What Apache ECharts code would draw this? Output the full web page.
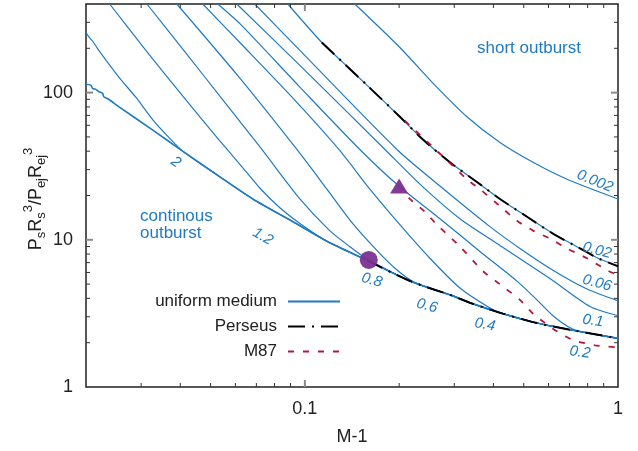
<!DOCTYPE html>
<html>
<head>
<meta charset="utf-8">
<script src="https://cdn.jsdelivr.net/npm/echarts@6/dist/echarts.min.js"></script>
<style>
  html, body { margin: 0; padding: 0; background: #ffffff; }
  #chart { width: 638px; height: 451px; }
</style>
</head>
<body>
<div id="chart"></div>
<script>
// Pressure ratio P_s R_s^3 / (P_ej R_ej^3) against Mach number minus one (M-1).

// Continuous-outburst envelope in a uniform medium
const continuous = [[0.02,114],[0.0207,112.5],[0.021,106.9],[0.0215,105.2],[0.022,101.4],[0.0226,98.9],[0.0228,93.8],
  [0.0236,90.2],[0.0255,80],[0.0327,55.6],[0.0408,39.9],[0.0531,27.1],[0.0682,18.95],[0.0916,13.27],[0.118,9.74],
  [0.158,7.26],[0.217,5.24],[0.297,4.16],[0.337,3.73],[0.429,3.15],[0.551,2.72],[0.702,2.45],[1,2.14]];

// Finite-duration outbursts (uniform medium); each one joins the envelope after its last point
const durationLabels = ['2','1.2','0.8','0.6','0.4','0.2','0.1','0.06','0.02','0.002'];
const dur2    = [[0.02,256],[0.0204,240],[0.0209,226],[0.0213,214],[0.022,193],[0.0255,127],[0.0288,93.4],[0.0327,65.4],[0.0365,50.5],[0.0408,39.9]];
const dur1_2  = [[0.0238,400],[0.0311,193],[0.0417,89.2],[0.0531,48],[0.062,32.6],[0.0718,22.5],[0.0832,16.5],[0.0964,12.9]];
const dur0_8  = [[0.0313,400],[0.0411,193],[0.0547,89.2],[0.0729,41.1],[0.0964,18.95],[0.120,11.55],[0.139,9.01],[0.1578,7.4],[0.1737,6.63]];
const dur0_6  = [[0.039,400],[0.062,125.4],[0.0943,41.1],[0.1176,22.1],[0.1423,12.87],[0.1698,8.47],[0.1939,6.41],[0.2246,5.12]];
const dur0_4  = [[0.0472,400],[0.062,218.9],[0.0896,96.4],[0.1284,41.1],[0.1613,22.1],[0.2011,12.67],[0.2508,7.49],[0.3128,4.70],[0.390,3.44]];
const dur0_2  = [[0.0527,400],[0.062,293.9],[0.0964,109],[0.1498,41.1],[0.1996,23.2],[0.27,13.91],[0.3623,8.34],[0.4757,5.24],
  [0.551,3.91],[0.6198,3.05],[0.7129,2.49],[0.8443,2.28]];
const dur0_1  = [[0.0606,400],[0.0964,153.3],[0.1802,41.1],[0.233,23.9],[0.3128,13.91],[0.4198,9.16],[0.6063,5.45],[0.814,3.52],[1,3.05]];
const dur0_06 = [[0.0692,400],[0.0964,193.4],[0.1968,41.1],[0.27,23.2],[0.39,12.29],[0.4862,8.74],[0.6198,6.22],[0.7963,4.63],[1,3.85]];
const dur0_02 = [[0.0882,400],[0.1133,218.9],[0.1322,160.6],[0.1578,112.5],[0.2011,68.5],[0.2382,48],[0.2906,33.6],[0.3544,24.7],
  [0.4198,18.95],[0.5121,14.34],[0.6198,11.02],[0.7563,8.74],[0.8568,7.55],[1,6.61]];
const dur0_002 = [[0.1444,400],[0.2011,202.6],[0.2564,116],[0.3293,68.5],[0.4198,45.8],[0.5353,33.6],[0.6873,25.8],[1,18.95]];
const durationCurves = [dur2, dur1_2, dur0_8, dur0_6, dur0_4, dur0_2, dur0_1, dur0_06, dur0_02, dur0_002];

// Perseus: short-outburst branch and continuous branch
const perseusShort = [[0.1133,218.9],[0.1322,160.6],[0.1578,112.5],[0.2011,68.5],[0.2382,48],[0.2906,33.6],[0.3544,24.7],
  [0.4198,18.95],[0.5121,14.34],[0.6198,11.02],[0.7563,8.74],[0.8568,7.55],[1,6.61]];
const perseusLong = [[0.158,7.26],[0.217,5.24],[0.297,4.16],[0.337,3.73],[0.429,3.15],[0.551,2.72],[0.702,2.45],[1,2.14]];

// M87: two branches
const m87Upper = [[0.2087,64.4],[0.276,36.9],[0.3293,25.8],[0.3623,22.1],[0.4292,16.24],[0.4757,13.48],[0.5353,11.55],
  [0.6063,10.2],[0.6873,8.74],[0.7963,7.49],[0.9224,6.22],[1,5.75]];
const m87Lower = [[0.1996,23.2],[0.2165,18.95],[0.2417,15.5],[0.2641,12.67],[0.3128,9.01],[0.3705,6.12],[0.4355,4.70],
  [0.4862,3.91],[0.5353,3.15],[0.6198,2.49],[0.7129,2.10],[0.8443,1.92],[1,1.86]];

// Observed points
const perseusPoint = [[0.16,7.3]];
const m87Point = [[0.2,23.2]];

// Axis ticks
const xMinorTicks = [0.03,0.04,0.05,0.06,0.07,0.08,0.09,0.2,0.3,0.4,0.5,0.6,0.7,0.8,0.9];
const xMajorTicks = [0.1];
const yMinorTicks = [2,3,4,5,6,7,8,9,20,30,40,50,60,70,80,90,200,300];
const yMajorTicks = [10,100];

// Where the duration labels sit (data coordinates) and their tilt in degrees
const labelAnchors = [
  [0.0387,33.6,-35],[0.0734,10.5,-30],[0.1637,5.32,-15],[0.2454,3.56,-15],[0.3759,2.65,-10],
  [0.7563,1.72,-8],[0.832,2.82,-8],[0.857,5.08,-15],[0.857,8.47,-15],[0.844,25.0,-22]
];

const FONT = '"Liberation Sans", Arial, Helvetica, sans-serif';
const BLUE = '#1f7ac4';
const RED = '#b5173a';
const PURPLE = '#7b3191';
const INK = '#222222';
const SMOOTH = 0.25;

function joinEnvelope(curve) {
  const lastX = curve[curve.length - 1][0];
  return curve.concat(continuous.filter(p => p[0] > lastX * 1.02));
}

const series = [];
series.push({
  name: 'uniform medium', type: 'line', data: continuous, symbol: 'none', showSymbol: false, smooth: SMOOTH,
  lineStyle: { color: BLUE, width: 1.6 }, itemStyle: { color: BLUE }, z: 2
});
durationCurves.forEach(c => {
  series.push({
    name: 'uniform medium', type: 'line', data: joinEnvelope(c), symbol: 'none', showSymbol: false, smooth: SMOOTH,
    lineStyle: { color: BLUE, width: 1.2 }, itemStyle: { color: BLUE }, z: 2
  });
});
series.push({
  name: 'Perseus', type: 'line', data: perseusShort.concat([[null, null]], perseusLong), connectNulls: false,
  symbol: 'none', showSymbol: false, smooth: SMOOTH,
  lineStyle: { color: '#000000', width: 2, type: [17, 7, 2, 7] }, itemStyle: { color: '#000000' }, z: 3
});
series.push({
  name: 'M87', type: 'line', data: m87Upper.concat([[null, null]], m87Lower), connectNulls: false,
  symbol: 'none', showSymbol: false, smooth: SMOOTH,
  lineStyle: { color: RED, width: 1.8, type: [6, 9] }, itemStyle: { color: RED }, z: 3
});
series.push({
  name: 'Perseus point', type: 'scatter', data: perseusPoint, symbol: 'circle', symbolSize: 18,
  itemStyle: { color: PURPLE, opacity: 0.95 }, z: 5
});
series.push({
  name: 'M87 point', type: 'scatter', data: m87Point, symbol: 'triangle', symbolSize: [18, 15],
  itemStyle: { color: PURPLE, opacity: 0.95 }, z: 5
});

function powerOfTenLabel(v) {
  const l = Math.log10(v);
  if (Math.abs(l - Math.round(l)) > 1e-6) return '';
  return String(Number(v.toPrecision(6)));
}

const chart = echarts.init(document.getElementById('chart'), null, { renderer: 'canvas' });
chart.setOption({
  animation: false,
  backgroundColor: '#ffffff',
  textStyle: { fontFamily: FONT },
  grid: { left: 86, right: 20, top: 4, bottom: 61, show: true, borderColor: INK, borderWidth: 1.5, backgroundColor: 'transparent' },
  legend: {
    orient: 'vertical', right: 292, top: 288, align: 'right',
    itemWidth: 52, itemHeight: 14, itemGap: 8, selectedMode: false,
    itemStyle: { opacity: 0 },
    textStyle: { fontSize: 17, color: INK, fontFamily: FONT, padding: [0, 6, 0, 0] },
    data: ['uniform medium', 'Perseus', 'M87']
  },
  xAxis: {
    type: 'log', logBase: 10, min: 0.02, max: 1,
    name: 'M-1', nameLocation: 'middle', nameGap: 41,
    nameTextStyle: { fontSize: 18, color: INK, fontFamily: FONT },
    axisLine: { show: false }, axisTick: { show: false }, splitLine: { show: false },
    axisLabel: { fontSize: 18, color: INK, margin: 13, fontFamily: FONT, formatter: powerOfTenLabel }
  },
  yAxis: {
    type: 'log', logBase: 10, min: 1, max: 400,
    axisLine: { show: false }, axisTick: { show: false }, splitLine: { show: false },
    axisLabel: { fontSize: 18, color: INK, margin: 13, fontFamily: FONT, formatter: powerOfTenLabel }
  },
  series: series
});

function toPx(x, y) { return chart.convertToPixel({ gridIndex: 0 }, [x, y]); }

const graphics = [];
const cornerBL = toPx(0.02, 1), cornerTR = toPx(1, 400);
const plotLeft = cornerBL[0], plotBottom = cornerBL[1], plotRight = cornerTR[0], plotTop = cornerTR[1];

function tick(x1, y1, x2, y2, major) {
  graphics.push({
    type: 'line', silent: true, z: 10,
    shape: { x1: x1, y1: y1, x2: x2, y2: y2 },
    style: { stroke: major ? '#8a8a8a' : '#333333', lineWidth: major ? 2 : 1 }
  });
}
xMinorTicks.forEach(v => { const p = toPx(v, 1)[0]; tick(p, plotBottom, p, plotBottom - 4, false); tick(p, plotTop, p, plotTop + 4, false); });
xMajorTicks.forEach(v => { const p = toPx(v, 1)[0]; tick(p, plotBottom, p, plotBottom - 7, true); tick(p, plotTop, p, plotTop + 7, true); });
yMinorTicks.forEach(v => { const p = toPx(1, v)[1]; tick(plotLeft, p, plotLeft + 4, p, false); tick(plotRight, p, plotRight - 4, p, false); });
yMajorTicks.forEach(v => { const p = toPx(1, v)[1]; tick(plotLeft, p, plotLeft + 7, p, true); tick(plotRight, p, plotRight - 7, p, true); });

// Duration labels along the curves
durationLabels.forEach((txt, i) => {
  const a = labelAnchors[i];
  const p = toPx(a[0], a[1]);
  graphics.push({
    type: 'text', x: p[0], y: p[1], rotation: a[2] * Math.PI / 180, silent: true, z: 12,
    style: { text: txt, fill: BLUE, fontSize: 15, fontStyle: 'italic', fontFamily: FONT, align: 'center', verticalAlign: 'middle' }
  });
});

// Regime annotations
graphics.push({
  type: 'text', x: 529, y: 48, silent: true, z: 12,
  style: { text: 'short outburst', fill: BLUE, fontSize: 17, fontFamily: FONT, align: 'center', verticalAlign: 'middle' }
});
graphics.push({
  type: 'text', x: 140, y: 225, silent: true, z: 12,
  style: { text: 'continous\noutburst', fill: BLUE, fontSize: 17, lineHeight: 17, fontFamily: FONT, align: 'left', verticalAlign: 'middle' }
});

// Vertical axis title with sub- and superscripts
graphics.push({
  type: 'text', x: 36, y: 199, rotation: Math.PI / 2, silent: true, z: 12,
  style: {
    text: '{m|P}{b|s}{m|R}{b|s}{p|3}{m|/P}{b|ej}{m|R}{b|ej}{p|3}',
    align: 'center', verticalAlign: 'middle', fill: INK, fontFamily: FONT,
    rich: {
      m: { fontSize: 18, lineHeight: 30, fill: INK, fontFamily: FONT, verticalAlign: 'middle' },
      b: { fontSize: 13, lineHeight: 13, fill: INK, fontFamily: FONT, verticalAlign: 'bottom', padding: [0, 0, 3, 0] },
      p: { fontSize: 13, lineHeight: 13, fill: INK, fontFamily: FONT, verticalAlign: 'top', padding: [1, 0, 0, 0] }
    }
  }
});

chart.setOption({ graphic: graphics });
</script>
</body>
</html>
